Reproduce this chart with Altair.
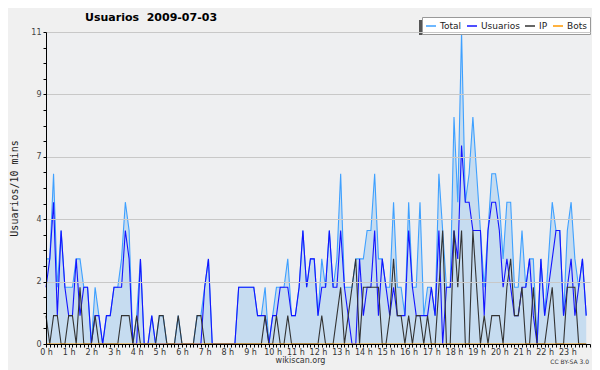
import altair as alt
import pandas as pd

series_names = ["Total", "Usuarios", "IP", "Bots"]
series_colors = ["#3ea0ff", "#1414ff", "#333333", "#ff9900"]

# values every 10 minutes, 6 per hour
total = [
    3, 3, 6, 2, 4, 2,
    2, 2, 3, 3, 2, 2,
    0, 2, 1, 0, 1, 1,
    2, 2, 3, 5, 4, 0,
    1, 3, 0, 0, 1, 0,
    1, 1, 0, 0, 0, 1,
    0, 0, 0, 0, 1, 1,
    2, 3, 0, 0, 0, 0,
    0, 0, 0, 2, 2, 2,
    2, 2, 1, 1, 2, 0,
    1, 2, 2, 2, 3, 1,
    1, 2, 4, 2, 3, 3,
    1, 3, 2, 4, 2, 3,
    6, 2, 2, 2, 3, 3,
    3, 4, 4, 6, 3, 3,
    2, 2, 5, 2, 2, 1,
    5, 2, 2, 5, 1, 2,
    2, 1, 6, 4, 2, 2,
    8, 5, 11, 5, 6, 8,
    6, 4, 2, 4, 6, 6,
    5, 3, 5, 5, 2, 2,
    4, 2, 3, 3, 0, 3,
    1, 3, 5, 4, 4, 1,
    4, 5, 3, 2, 3, 1,
]
usuarios = [
    2, 3, 5, 1, 4, 2,
    1, 1, 3, 1, 2, 2,
    0, 1, 1, 0, 1, 1,
    2, 2, 2, 4, 3, 0,
    0, 3, 0, 0, 1, 0,
    0, 0, 0, 0, 0, 0,
    0, 0, 0, 0, 0, 0,
    2, 3, 0, 0, 0, 0,
    0, 0, 0, 2, 2, 2,
    2, 2, 1, 1, 1, 0,
    1, 1, 2, 2, 2, 1,
    1, 2, 4, 2, 3, 3,
    1, 2, 2, 4, 2, 2,
    4, 2, 1, 0, 0, 3,
    1, 2, 2, 4, 1, 3,
    2, 1, 2, 1, 1, 1,
    4, 2, 1, 1, 1, 1,
    2, 1, 4, 0, 2, 2,
    4, 3, 7, 5, 5, 4,
    4, 4, 1, 4, 5, 5,
    4, 2, 3, 2, 1, 1,
    2, 2, 3, 1, 0, 3,
    1, 2, 3, 4, 4, 1,
    2, 3, 1, 2, 3, 1,
]
ip = [
    1, 0, 1, 1, 0, 0,
    1, 1, 0, 2, 0, 0,
    0, 1, 0, 0, 0, 0,
    0, 0, 1, 1, 1, 0,
    1, 0, 0, 0, 0, 0,
    1, 1, 0, 0, 0, 1,
    0, 0, 0, 0, 1, 1,
    0, 0, 0, 0, 0, 0,
    0, 0, 0, 0, 0, 0,
    0, 0, 0, 0, 1, 0,
    0, 1, 0, 0, 1, 0,
    0, 0, 0, 0, 0, 0,
    0, 1, 0, 0, 0, 1,
    2, 0, 1, 2, 3, 0,
    2, 2, 2, 2, 2, 0,
    0, 1, 3, 1, 1, 0,
    1, 0, 1, 1, 0, 1,
    0, 0, 2, 4, 0, 0,
    4, 2, 4, 0, 0, 4,
    2, 0, 1, 0, 1, 1,
    1, 0, 2, 3, 1, 1,
    2, 0, 0, 2, 0, 0,
    0, 1, 2, 0, 0, 0,
    2, 2, 2, 0, 0, 0,
]
bots = [0] * 144

hour_labels = [f"{h} h" for h in range(24)]
y_tick_labels = ["0", "2", "4", "7", "9", "11"]
y_major_step = 2.2
title_text = ["Usuarios \u00a02009-07-03"]
y_title = "Usuarios/10 mins"
footer = ["wikiscan.org"]
license_text = ["CC BY-SA 3.0"]

rows = []
for name, vals in zip(series_names, [total, usuarios, ip, bots]):
    for s, v in enumerate(vals):
        rows.append({"slot": s, "serie": name, "value": v})
df = pd.DataFrame(rows)

x_values = list(range(0, 145))
y_values = [round(k * y_major_step / 4, 2) for k in range(21)]
hour_js = "[" + ",".join(f"'{l}'" for l in hour_labels) + "]"
ylab_js = "[" + ",".join(f"'{l}'" for l in y_tick_labels) + "]"
is_major_y = "abs(datum.value/2.2 - round(datum.value/2.2)) < 0.01"

X = alt.X(
    "slot:Q",
    scale=alt.Scale(domain=[0, 144], nice=False, zero=False),
    axis=alt.Axis(
        values=x_values, title=None, grid=False,
        labelExpr=f"(datum.value % 6 == 0 && datum.value < 144) ? {hour_js}[datum.value/6] : ''",
        labelOverlap=False, labelFlush=False, labelBound=False,
        labelAlign="center", labelBaseline="top", labelPadding=1,
        labelFont="DejaVu Sans", labelFontSize=8, labelColor="#333333",
        tickSize=3, tickColor="#000000", domainColor="#000000",
        zindex=1,
    ),
)
Y = alt.Y(
    "value:Q",
    scale=alt.Scale(domain=[0, 11], nice=False, zero=True),
    axis=alt.Axis(
        values=y_values,
        labelExpr=f"({is_major_y}) ? {ylab_js}[round(datum.value/2.2)] : ''",
        labelOverlap=False, labelFlush=False, labelBound=False,
        labelFont="DejaVu Sans", labelFontSize=8, labelColor="#444444", labelPadding=2,
        tickSize=3, tickColor="#000000", domainColor="#000000",
        grid=True, gridColor="#c8c8c8",
        gridOpacity={"condition": {"test": is_major_y, "value": 1}, "value": 0},
        title=y_title, titleFont="DejaVu Sans Mono", titleFontSize=10,
        titleFontWeight="normal", titleColor="#222222",
        titleX=-29, titleY=156, titleAngle=270, titleAlign="center",
        titleBaseline="alphabetic",
        zindex=1,
    ),
)

legend = alt.Legend(
    title=None, orient="none", legendX=376, legendY=-15,
    direction="horizontal", columns=4,
    symbolType="stroke", symbolSize=100, symbolStrokeWidth=1.5,
    labelFont="DejaVu Sans", labelFontSize=9, labelColor="#222222",
    labelOffset=3, columnPadding=2, padding=3,
    fillColor="#ffffff", strokeColor="#999999",
)
color = alt.Color(
    "serie:N",
    scale=alt.Scale(domain=series_names, range=series_colors),
    legend=legend,
)

base = alt.Chart(df)
area = base.transform_filter("datum.serie == 'Total'").mark_area(
    color="#c6dcf0", opacity=1
).encode(x=X, y=Y)

lines = [
    base.transform_filter(f"datum.serie == '{n}'").mark_line(strokeWidth=1.1).encode(
        x=X, y=Y, color=color
    )
    for n in series_names
]

shadow = alt.Chart(pd.DataFrame({"k": [1]})).mark_rect(color="#555555").encode(
    x=alt.value(373), x2=alt.value(542), y=alt.value(-12), y2=alt.value(3)
)

title = alt.Chart(pd.DataFrame({"t": title_text})).mark_text(
    font="DejaVu Sans", fontSize=11, fontWeight="bold", color="#000000",
    align="left", baseline="alphabetic",
).encode(text="t:N", x=alt.value(39), y=alt.value(-11.5))

foot = alt.Chart(pd.DataFrame({"t": footer})).mark_text(
    font="DejaVu Sans", fontSize=8, color="#333333", align="center", baseline="middle"
).encode(text="t:N", x=alt.value(254.5), y=alt.value(329))

lic = alt.Chart(pd.DataFrame({"t": license_text})).mark_text(
    font="DejaVu Sans", fontSize=6, color="#333333", align="right", baseline="middle"
).encode(text="t:N", x=alt.value(543), y=alt.value(330))

chart = alt.layer(area, *lines, shadow, title, foot, lic).properties(
    width=544, height=312,
    padding={"left": 38, "top": 24, "right": 2, "bottom": 26},
    autosize=alt.AutoSizeParams(type="none"),
    background="#f0f0f0",
).configure_view(fill="#eeeff1", stroke="transparent")

chart.save("out.html", embed_options={"renderer": "svg", "actions": False})
